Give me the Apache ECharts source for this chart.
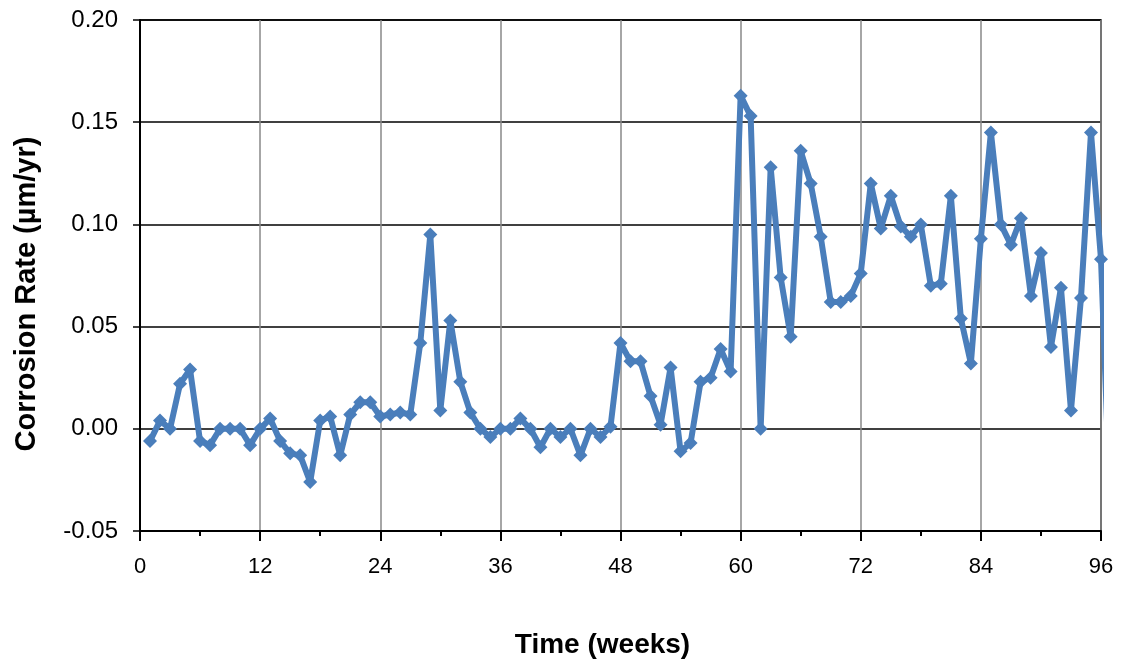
<!DOCTYPE html>
<html>
<head>
<meta charset="utf-8">
<script src="https://cdn.jsdelivr.net/npm/echarts@6/dist/echarts.min.js"></script>
<style>
html, body { margin: 0; padding: 0; background: #fff; }
#main { width: 1122px; height: 664px; }
</style>
</head>
<body>
<div id="main"></div>
<script>
var myChart = echarts.init(document.getElementById('main'));

// weeks 1..97 (97 lies past the axis end, only its stub is visible)
var weeks = [];
for (var w = 1; w <= 97; w++) weeks.push(w);

var rates = [
    -0.006, 0.004, 0.000, 0.022, 0.029, -0.006, -0.008, 0.000, 0.000, 0.000,
    -0.008, 0.000, 0.005, -0.006, -0.012, -0.013, -0.026, 0.004, 0.006, -0.013,
    0.007, 0.013, 0.013, 0.006, 0.007, 0.008, 0.007, 0.042, 0.095, 0.009,
    0.053, 0.023, 0.008, 0.000, -0.004, 0.000, 0.000, 0.005, 0.000, -0.009,
    0.000, -0.004, 0.000, -0.013, 0.000, -0.004, 0.001, 0.042, 0.033, 0.033,
    0.016, 0.002, 0.030, -0.011, -0.007, 0.023, 0.025, 0.039, 0.028, 0.163,
    0.153, 0.000, 0.128, 0.074, 0.045, 0.136, 0.120, 0.094, 0.062, 0.062,
    0.065, 0.076, 0.120, 0.098, 0.114, 0.099, 0.094, 0.100, 0.070, 0.071,
    0.114, 0.054, 0.032, 0.093, 0.145, 0.100, 0.090, 0.103, 0.065, 0.086,
    0.040, 0.069, 0.009, 0.064, 0.145, 0.083, -0.050
];

var yTicks = [-0.05, 0.00, 0.05, 0.10, 0.15, 0.20];
var xTicks = [0, 12, 24, 36, 48, 60, 72, 84, 96];

var points = weeks.map(function (w, i) { return [w, rates[i]]; });

var font = 'Liberation Sans, Arial, sans-serif';

option = {
    animation: false,
    backgroundColor: '#fff',
    grid: {
        left: 140,
        top: 20,
        width: 961,
        height: 513,
        show: true,
        borderColor: '#000',
        borderWidth: 1.5
    },
    xAxis: {
        type: 'value',
        min: xTicks[0],
        max: xTicks[xTicks.length - 1],
        interval: 12,
        name: 'Time (weeks)',
        nameLocation: 'middle',
        nameGap: 100,
        nameTextStyle: {
            fontFamily: font, fontSize: 28, fontWeight: 'bold', color: '#000',
            padding: [0, 36, 0, 0]
        },
        axisLine: { onZero: false, lineStyle: { color: '#000', width: 2 } },
        axisTick: { length: 10, lineStyle: { color: '#000', width: 2 } },
        minorTick: { show: true, splitNumber: 2, length: 5, lineStyle: { color: '#000', width: 2 } },
        axisLabel: { fontFamily: font, fontSize: 22, color: '#000', margin: 25 },
        splitLine: { show: true, lineStyle: { color: '#888', width: 1.5 } }
    },
    yAxis: {
        type: 'value',
        min: yTicks[0],
        max: yTicks[yTicks.length - 1],
        interval: 0.05,
        name: 'Corrosion Rate (\u00b5m/yr)',
        nameLocation: 'middle',
        nameGap: 99,
        nameTextStyle: {
            fontFamily: font, fontSize: 29, fontWeight: 'bold', color: '#000',
            padding: [0, 37, 0, 0]
        },
        axisLine: { show: true, lineStyle: { color: '#000', width: 2 } },
        axisTick: { show: true, length: 7, lineStyle: { color: '#000', width: 1.5 } },
        axisLabel: {
            fontFamily: font, fontSize: 24, color: '#000', margin: 22,
            formatter: function (v) { return v.toFixed(2); }
        },
        splitLine: { show: true, lineStyle: { color: '#000', width: 1.5 } }
    },
    series: [
        {
            name: 'Corrosion Rate',
            type: 'line',
            data: points,
            symbol: 'diamond',
            symbolSize: 14,
            showAllSymbol: true,
            clip: true,
            itemStyle: { color: '#4a7ebb' },
            lineStyle: { color: '#4a7ebb', width: 6 }
        }
    ]
};
myChart.setOption(option);
</script>
</body>
</html>
